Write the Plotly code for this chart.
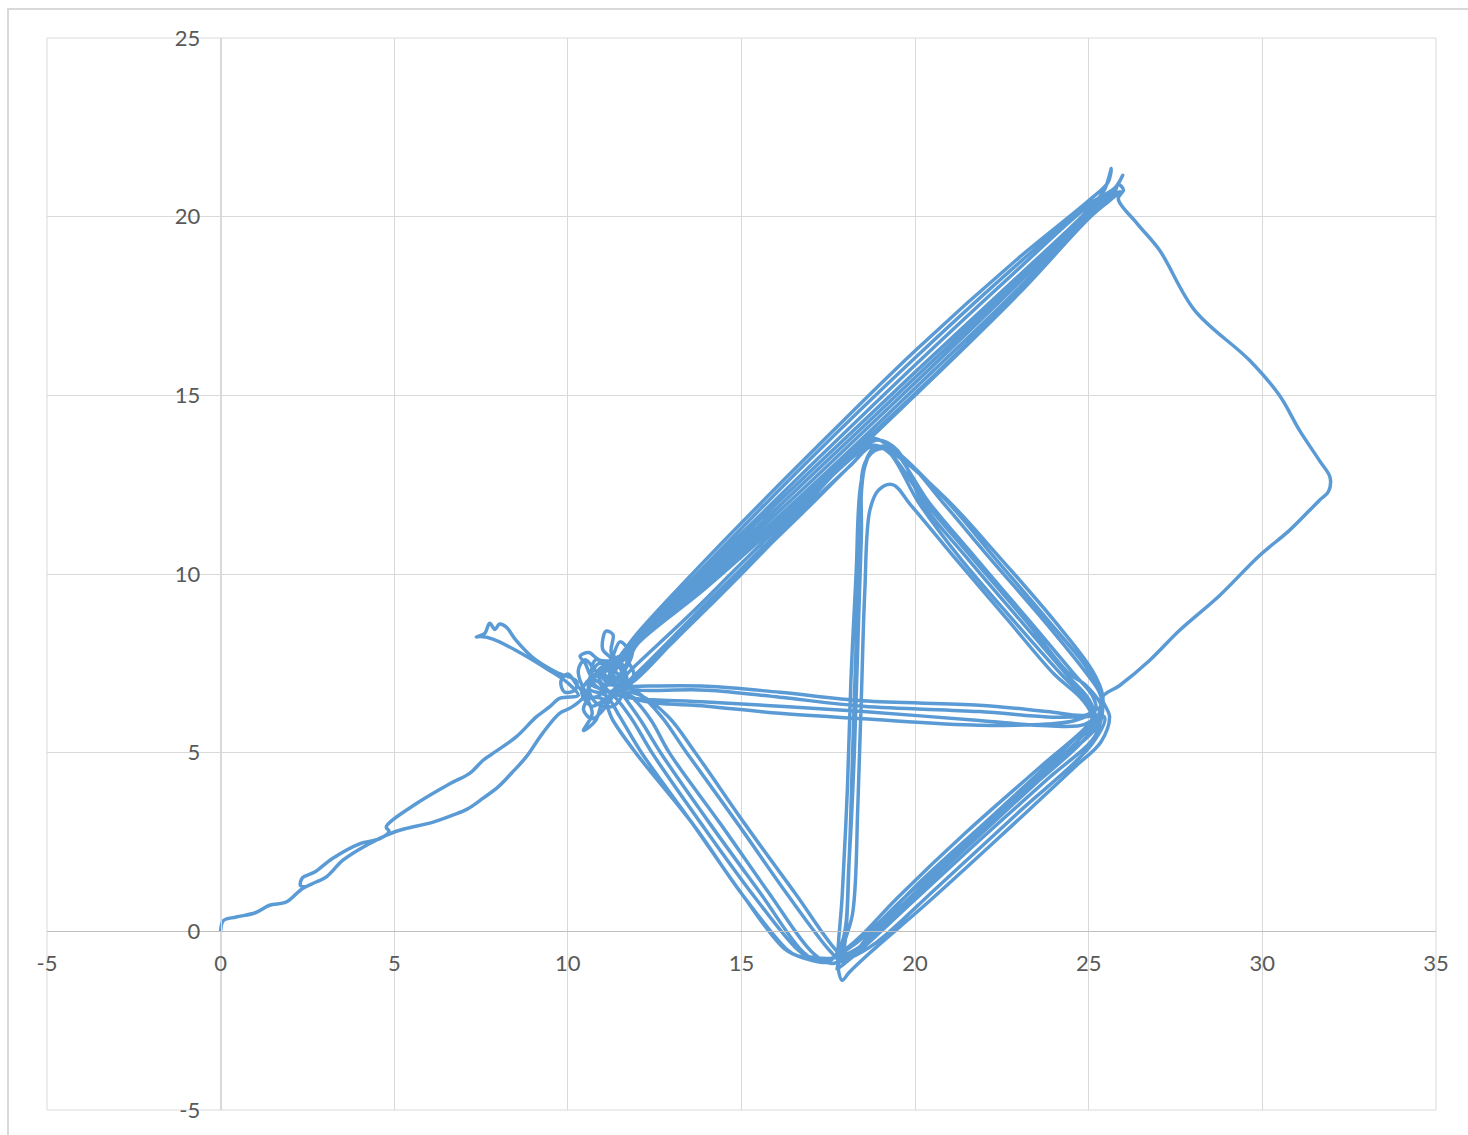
import plotly.graph_objects as go

# Track recorded by the robot, split into consecutive legs (x, y in metres)

leg_in_x = [0.0, 0.08, 0.45, 1.0, 1.41, 1.89, 2.36, 2.75, 3.04, 3.52, 4.0, 4.58, 5.0, 5.35, 6.1, 6.68, 7.1, 7.55, 8.0, 8.4, 8.8, 9.27, 9.76, 10.05]
leg_in_y = [0.0, 0.3, 0.4, 0.52, 0.73, 0.82, 1.2, 1.38, 1.52, 1.99, 2.3, 2.6, 2.78, 2.88, 3.05, 3.25, 3.42, 3.72, 4.05, 4.45, 4.88, 5.54, 6.1, 6.24]

knot_a_x = [10.4, 10.9, 11.25, 11.0, 11.1, 11.3, 11.25, 11.6, 11.2, 10.7, 10.5, 10.35, 10.6, 10.9, 11.5, 11.7,
            11.3, 10.8, 10.6, 11.0, 11.6, 11.9, 11.5, 11.1, 11.4]
knot_a_y = [6.5, 7.3, 7.6, 7.9, 8.4, 8.3, 7.8, 7.4, 6.9, 7.1, 7.5, 7.7, 7.8, 7.6, 7.5, 7.0,
            6.3, 6.4, 6.9, 7.2, 6.7, 7.2, 7.7, 7.3, 7.4]

diag_1_x = [12.0, 14.0, 17.0, 20.0, 23.0, 25.0, 25.45, 25.65, 25.55, 25.0, 23.0, 20.0, 17.0, 14.0, 12.0, 11.5, 11.2, 11.5]
diag_1_y = [8.19, 10.08, 12.89, 15.65, 18.36, 20.2, 20.75, 21.35, 20.95, 20.45, 18.86, 16.25, 13.39, 10.43, 8.34, 7.7, 7.3, 6.8]

lap_a_x = [11.9, 13.5, 15.0, 16.8, 18.2, 18.7, 19.2, 20.1, 21.25, 22.83, 24.2, 24.9, 25.2,
           24.8, 23.3, 21.5, 19.7, 18.2, 17.3, 16.8, 15.55, 14.1, 12.67, 12.1, 11.6]
lap_a_y = [7.0, 8.6, 10.05, 11.75, 13.1, 13.55, 13.45, 12.0, 10.5, 8.7, 7.2, 6.5, 6.0,
           5.45, 4.1, 2.55, 0.95, -0.4, -0.85, -0.6, 1.06, 3.0, 5.0, 5.9, 6.6]

diag_2_x = [11.2, 11.6, 12.0, 14.0, 17.0, 20.0, 23.0, 25.0, 25.6, 25.98, 25.75, 25.0, 23.0, 20.0, 17.0, 14.0, 12.0, 11.4, 10.9, 11.3, 11.0]
diag_2_y = [7.2, 7.6, 8.14, 9.88, 12.59, 15.35, 18.16, 20.1, 20.55, 21.16, 20.8, 20.35, 18.71, 16.05, 13.24, 10.28, 8.24, 7.5, 7.1, 6.6, 6.9]

cross_1_x = [11.6, 12.06, 14.0, 16.1, 18.5, 21.85, 23.8, 24.9, 25.35,
             25.2, 23.8, 21.8, 19.9, 18.4, 17.9, 17.75,
             17.95, 18.1, 18.2, 18.3, 18.4, 18.55, 18.85,
             19.4, 20.9, 22.4, 24.0, 25.1, 25.4, 25.35,
             24.9, 23.0, 21.0, 19.2, 18.3, 17.9, 17.55,
             16.3, 14.9, 13.42, 12.7, 12.0, 11.6]
cross_1_y = [6.85, 6.86, 6.86, 6.69, 6.45, 6.33, 6.15, 6.05, 6.25,
             5.5, 4.25, 2.5, 0.8, -0.55, -0.95, -1.05,
             -0.5, 2.0, 5.0, 8.0, 11.0, 13.0, 13.55,
             13.35, 12.1, 10.5, 8.7, 7.3, 6.6, 6.1,
             5.4, 3.75, 2.0, 0.3, -0.6, -0.85, -0.55,
             1.06, 3.0, 5.0, 6.0, 6.7, 6.9]

diag_3_x = [11.2, 11.7, 12.0, 14.0, 17.0, 20.0, 23.0, 25.0, 25.6, 25.8, 25.5, 25.0, 23.0, 20.0, 17.0, 14.0, 12.0, 11.3, 10.8, 10.7, 11.2]
diag_3_y = [7.4, 7.7, 8.09, 9.73, 12.34, 15.05, 17.91, 20.0, 20.5, 20.85, 20.55, 20.3, 18.56, 15.85, 13.04, 10.18, 8.29, 7.4, 7.6, 7.0, 6.7]

lap_b_x = [11.8, 13.5, 15.0, 16.8, 18.3, 18.9, 19.5, 20.2, 21.45, 23.03, 24.35, 25.0, 25.15,
           25.0, 23.6, 21.5, 19.5, 18.3, 17.5, 16.9, 16.55, 15.3, 13.85, 12.42, 11.8, 11.2,
           10.7, 11.0, 11.4]
lap_b_y = [7.3, 8.85, 10.3, 12.0, 13.35, 13.75, 13.45, 12.0, 10.5, 8.7, 7.2, 6.5, 6.1,
           5.8, 4.6, 2.8, 0.95, -0.25, -0.8, -0.7, -0.45, 1.06, 3.0, 5.0, 6.0, 6.7,
           6.9, 7.4, 6.9]

knot_b_x = [11.1, 10.7, 10.45, 10.6, 10.9, 11.3, 11.7, 11.5, 11.25, 10.9, 11.2]
knot_b_y = [6.3, 5.95, 6.2, 6.5, 6.6, 7.2, 7.9, 8.1, 7.6, 7.0, 6.7]

cross_2_x = [11.7, 12.06, 14.0, 16.1, 18.5, 21.85, 23.8, 24.9, 25.4,
             25.3, 24.95, 23.7, 22.1, 20.8, 19.6, 18.95, 18.55,
             18.45, 18.35, 18.25, 18.1, 17.9, 17.5,
             16.8, 16.25, 15.0, 13.6, 12.12, 11.5, 11.1,
             10.6, 10.9, 11.5, 11.8]
cross_2_y = [6.55, 6.5, 6.42, 6.3, 6.15, 5.9, 5.75, 5.8, 6.25,
             6.7, 7.2, 8.7, 10.5, 12.0, 13.3, 13.5, 13.1,
             11.0, 8.0, 5.0, 2.0, -0.3, -0.85,
             -0.75, -0.5, 1.06, 3.0, 5.0, 6.0, 6.6,
             6.8, 7.5, 7.2, 7.6]

diag_4_x = [12.0, 14.0, 17.0, 20.0, 23.0, 25.0, 25.6, 25.75, 25.85, 26.0, 25.85,
            26.4, 27.04, 28.05, 29.63, 30.49, 31.07, 31.64, 31.95, 31.9, 31.64,
            30.78, 29.92, 28.77, 27.61, 26.75, 25.89, 25.4,
            25.6, 25.35, 24.6, 22.5, 20.3, 18.7, 18.1, 17.9, 17.78,
            17.9, 18.05, 18.15, 18.3, 18.45, 18.75, 19.25,
            20.4, 21.7, 23.28, 24.58, 25.1, 25.2,
            24.6, 23.8, 21.85, 18.5, 16.1, 14.0, 12.06, 11.5,
            11.0, 11.4, 11.7]
diag_4_y = [8.24, 9.98, 12.74, 15.5, 18.26, 20.15, 20.6, 20.7, 20.9, 20.75, 20.5,
            19.8, 19.06, 17.38, 15.98, 15.0, 14.02, 13.18, 12.7, 12.3, 12.06,
            11.22, 10.52, 9.4, 8.42, 7.58, 6.88, 6.55,
            6.0, 5.3, 4.6, 2.7, 0.75, -0.6, -1.15, -1.37, -1.0,
            1.0, 4.0, 7.0, 10.0, 12.6, 13.45, 13.55,
            12.0, 10.5, 8.7, 7.2, 6.6, 6.2,
            5.9, 5.8, 5.77, 5.95, 6.1, 6.3, 6.47, 6.8,
            7.1, 7.5, 7.0]

lap_c_x = [11.9, 13.5, 15.0, 16.8, 18.0, 18.7, 19.3, 20.95, 22.25, 23.83, 25.0, 25.35, 25.3,
           25.25, 24.2, 22.0, 19.8, 18.3, 17.6, 17.0, 16.6, 16.3, 15.0, 13.6, 11.95, 11.3, 11.0,
           10.6, 10.3, 10.5, 10.9, 11.4]
lap_c_y = [7.15, 8.7, 10.15, 11.9, 13.15, 13.8, 13.55, 12.0, 10.5, 8.7, 7.3, 6.6, 6.1,
           5.75, 4.8, 2.9, 0.9, -0.5, -0.75, -0.72, -0.68, -0.5, 1.06, 3.0, 5.0, 5.9, 6.5,
           6.6, 7.3, 7.6, 7.2, 7.1]

diag_5_x = [11.8, 12.0, 14.0, 17.0, 20.0, 23.0, 25.0, 25.6, 25.9, 25.6, 25.0, 23.0, 20.0, 17.0, 14.0, 12.0, 11.4, 11.0, 11.3]
diag_5_y = [7.7, 8.04, 9.63, 12.24, 15.0, 17.86, 19.95, 20.45, 20.7, 20.55, 20.05, 18.01, 15.2, 12.44, 9.78, 8.14, 7.6, 7.3, 6.9]

lap_d_x = [11.9, 12.4, 12.92, 14.4, 15.8, 17.05, 17.6,
           18.4, 20.2, 22.2, 24.1, 25.1, 25.4,
           24.9, 24.45, 23.18, 21.6, 20.3, 19.3, 18.8,
           18.1, 16.8, 15.0, 13.5, 12.0, 11.5]
lap_d_y = [6.5, 5.9, 5.0, 3.0, 1.06, -0.6, -0.9,
           -0.45, 1.2, 3.0, 4.7, 5.6, 6.2,
           6.9, 7.2, 8.7, 10.5, 12.0, 13.35, 13.6,
           13.0, 11.8, 10.0, 8.55, 7.15, 6.8]

cross_3_x = [11.8, 12.06, 14.0, 16.1, 18.5, 21.85, 23.8, 24.8, 25.45,
             25.1, 23.0, 20.6, 18.9, 18.1, 17.85,
             18.2, 18.35, 18.45, 18.55, 18.7, 18.95, 19.35,
             19.9, 21.1, 22.68, 24.0, 24.8, 25.1,
             24.5, 22.3, 20.0, 18.6, 18.1, 17.8,
             16.55, 15.1, 13.67, 12.9, 12.1, 11.4]
cross_3_y = [6.8, 6.75, 6.75, 6.55, 6.3, 6.15, 6.0, 6.0, 6.0,
             5.25, 3.35, 1.2, -0.3, -0.75, -0.8,
             0.5, 3.5, 6.5, 9.5, 11.8, 12.35, 12.5,
             11.9, 10.5, 8.7, 7.2, 6.5, 5.95,
             5.3, 3.3, 1.25, -0.2, -0.75, -0.6,
             1.06, 3.0, 5.0, 6.0, 6.6, 6.7]

leg_out_x = [10.7, 10.4, 10.8, 11.3, 11.6, 11.2, 11.0, 10.8, 10.45, 10.7, 10.5, 10.25, 10.0, 9.8, 9.9, 10.2, 10.25,
             9.67, 8.98, 8.51, 8.22, 8.03, 7.9, 7.75, 7.6, 7.36, 7.5, 7.84, 8.51, 9.47, 10.0, 10.3,
             9.95, 9.76, 9.47, 9.09, 8.51, 7.84, 7.55, 7.17, 6.6, 5.63, 4.77, 4.85, 4.6, 4.0, 3.22,
             2.71, 2.36, 2.3, 2.45]
leg_out_y = [6.3, 6.7, 7.2, 7.3, 6.9, 6.5, 6.4, 5.9, 5.62, 6.1, 6.6, 6.9, 7.2, 7.0, 6.7, 6.75, 7.0,
             7.25, 7.67, 8.14, 8.52, 8.6, 8.45, 8.62, 8.33, 8.24, 8.25, 8.18, 7.86, 7.3, 6.95, 6.6,
             6.55, 6.52, 6.28, 6.0, 5.44, 4.98, 4.78, 4.42, 4.13, 3.57, 2.92, 2.8, 2.6, 2.45, 2.04,
             1.66, 1.5, 1.28, 1.25]

legs_x = [leg_in_x, knot_a_x, diag_1_x, lap_a_x, diag_2_x, cross_1_x, diag_3_x, lap_b_x, knot_b_x,
          cross_2_x, diag_4_x, lap_c_x, diag_5_x, lap_d_x, cross_3_x, leg_out_x]
legs_y = [leg_in_y, knot_a_y, diag_1_y, lap_a_y, diag_2_y, cross_1_y, diag_3_y, lap_b_y, knot_b_y,
          cross_2_y, diag_4_y, lap_c_y, diag_5_y, lap_d_y, cross_3_y, leg_out_y]

track_x = [v for leg in legs_x for v in leg]
track_y = [v for leg in legs_y for v in leg]

x_ticks = [-5, 0, 5, 10, 15, 20, 25, 30, 35]
x_tick_text = ["-5", "0", "5", "10", "15", "20", "25", "30", "35"]
y_ticks = [-5, 0, 5, 10, 15, 20, 25]
y_tick_text = ["-5", "0", "5", "10", "15", "20", "25"]

GRID = "#d9d9d9"
AXIS = "#bfbfbf"
TEXT = "#595959"

fig = go.Figure()
fig.add_trace(go.Scatter(
    x=track_x, y=track_y, mode="lines",
    line=dict(color="#5B9BD5", width=3.5, shape="spline", smoothing=1.0),
    showlegend=False, hoverinfo="skip",
))

fig.update_layout(
    width=1468, height=1135,
    margin=dict(l=47, r=32, t=38, b=25),
    paper_bgcolor="white", plot_bgcolor="white",
    font=dict(family="Lato, 'Open Sans', sans-serif", size=22, color=TEXT),
    xaxis=dict(
        range=[-5, 35], tickvals=x_ticks, ticktext=x_tick_text,
        showgrid=True, gridcolor=GRID, gridwidth=1, zeroline=False,
        showline=True, linecolor=AXIS, linewidth=1,
        anchor="free", position=5 / 30, ticks="", ticklabelstandoff=12,
        fixedrange=True,
    ),
    yaxis=dict(
        range=[-5, 25], tickvals=y_ticks, ticktext=y_tick_text,
        showgrid=True, gridcolor=GRID, gridwidth=1, zeroline=False,
        showline=True, linecolor=GRID, linewidth=1,
        anchor="free", position=5 / 40, ticks="", ticklabelstandoff=16,
        fixedrange=True,
    ),
    shapes=[
        # plot-area frame
        dict(type="rect", xref="paper", yref="paper", x0=0, y0=0, x1=1, y1=1,
             line=dict(color=GRID, width=1), layer="below"),
        # chart-area border
        dict(type="rect", xref="paper", yref="paper",
             x0=(8 - 47) / 1389, y0=(1110 - 1150) / 1072,
             x1=(1480 - 47) / 1389, y1=(1110 - 9) / 1072,
             line=dict(color="#d9d9d9", width=2), layer="below"),
    ],
)

fig.write_html("out.html")
